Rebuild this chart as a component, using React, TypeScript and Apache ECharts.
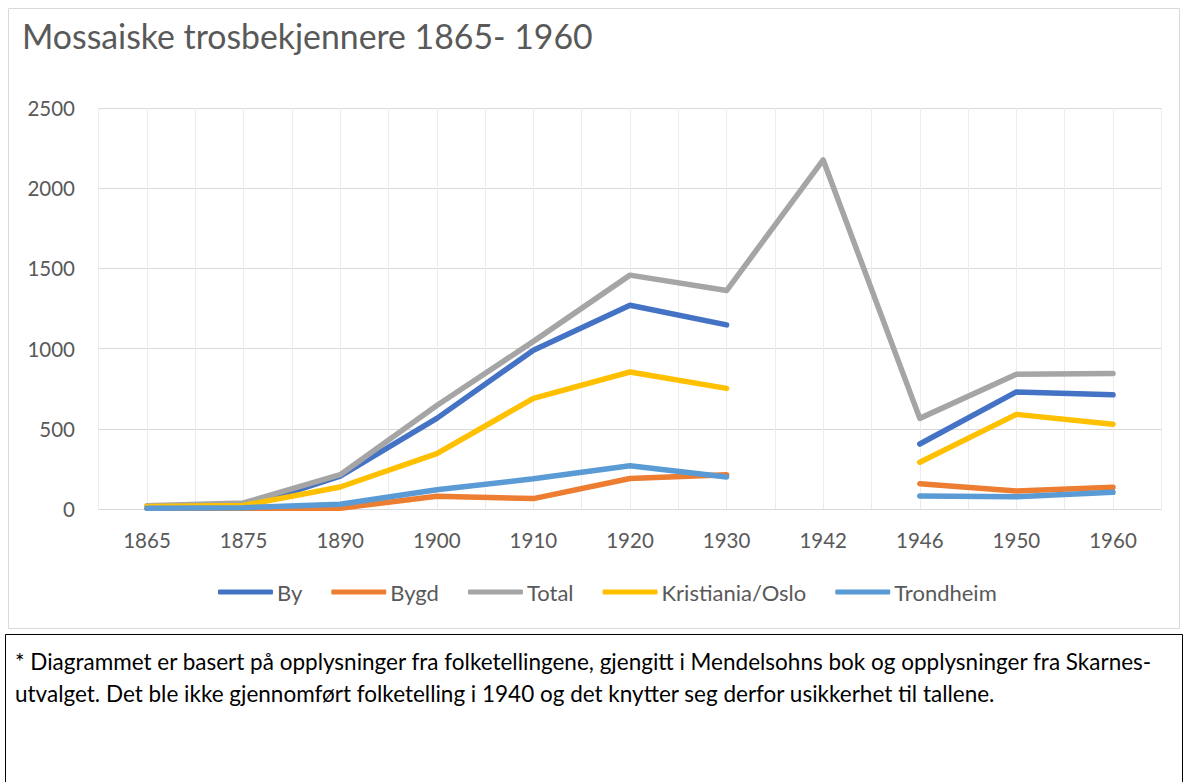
import React, { useEffect, useRef } from "react";
import * as echarts from "echarts";

const years = ["1865", "1875", "1890", "1900", "1910", "1920", "1930", "1942", "1946", "1950", "1960"];
const by = [5, 10, 205, 565, 990, 1270, 1148, null, 405, 730, 712];
const bygd = [5, 5, 5, 80, 65, 190, 213, null, 158, 112, 135];
const total = [20, 38, 214, 645, 1045, 1458, 1362, 2176, 565, 840, 845];
const oslo = [15, 22, 137, 345, 690, 854, 752, null, 292, 590, 528];
const trondheim = [5, 8, 30, 120, 188, 270, 200, null, 81, 76, 104];

const titleText = "Mossaiske trosbekjennere 1865- 1960";
const noteLines = [
  "* Diagrammet er basert på opplysninger fra folketellingene, gjengitt i Mendelsohns bok og opplysninger fra Skarnes-",
  "utvalget. Det ble ikke gjennomført folketelling i 1940 og det knytter seg derfor usikkerhet til tallene.",
];

const seriesDefs = [
  { name: "By", data: by, color: "#4472C4" },
  { name: "Bygd", data: bygd, color: "#ED7D31" },
  { name: "Total", data: total, color: "#A5A5A5" },
  { name: "Kristiania/Oslo", data: oslo, color: "#FFC000" },
  { name: "Trondheim", data: trondheim, color: "#5B9BD5" },
];

const FONT = "Lato, 'Open Sans', sans-serif";

export default function App() {
  const ref = useRef<HTMLDivElement>(null);
  useEffect(() => {
    document.body.style.margin = "0";
    const chart = echarts.init(ref.current!, null, { renderer: "svg" });
    chart.setOption({
      animation: false,
      backgroundColor: "#ffffff",
      textStyle: { fontFamily: FONT },
      grid: { left: 98.7, right: 23.7, top: 108, bottom: 273, containLabel: false },
      legend: {
        top: 576,
        left: 213,
        itemWidth: 55,
        itemHeight: 5,
        itemGap: 29,
        icon: "roundRect",
        textStyle: { fontSize: 22, color: "#595959", fontFamily: FONT, padding: [0, 0, 0, -1] },
        data: seriesDefs.map((s) => s.name),
      },
      xAxis: [
        {
          type: "category",
          data: years,
          boundaryGap: true,
          axisLine: { show: true, lineStyle: { color: "#d9d9d9", width: 1 } },
          axisTick: { show: false },
          splitLine: { show: false },
          axisLabel: { fontSize: 20.5, color: "#595959", margin: 20, fontFamily: FONT },
        },
        {
          type: "value",
          min: 0,
          max: 22,
          interval: 1,
          position: "top",
          axisLine: { show: false },
          axisTick: { show: false },
          axisLabel: { show: false },
          splitLine: { show: true, lineStyle: { color: "#ececec", width: 1 } },
        },
      ],
      yAxis: {
        type: "value",
        min: 0,
        max: 2500,
        interval: 500,
        axisLine: { show: false },
        axisTick: { show: false },
        axisLabel: {
          fontSize: 20.5,
          color: "#595959",
          margin: 23.7,
          fontFamily: FONT,
          formatter: (v: number) => String(v),
        },
        splitLine: { show: true, lineStyle: { color: "#d9d9d9", width: 1 } },
      },
      series: seriesDefs.map((s) => ({
        name: s.name,
        type: "line",
        xAxisIndex: 0,
        data: s.data,
        connectNulls: false,
        showSymbol: false,
        symbol: "none",
        color: s.color,
        lineStyle: { width: 5.5, color: s.color, cap: "round", join: "round" },
        itemStyle: { color: s.color },
      })),
      graphic: [
        {
          type: "rect",
          shape: { x: 8.5, y: 8.5, width: 1171, height: 620 },
          style: { fill: "none", stroke: "#d9d9d9", lineWidth: 1 },
          silent: true,
          z: -1,
        },
        {
          type: "text",
          left: 22,
          top: 19,
          style: { text: titleText, fontSize: 33.8, fill: "#595959", fontFamily: FONT },
        },
        {
          type: "rect",
          shape: { x: 5.5, y: 634.5, width: 1177, height: 160 },
          style: { fill: "#ffffff", stroke: "#000000", lineWidth: 1 },
          silent: true,
        },
        {
          type: "text",
          left: 15,
          top: 650,
          style: { text: noteLines[0], fontSize: 22.5, fill: "#000000", fontFamily: FONT },
        },
        {
          type: "text",
          left: 15,
          top: 682,
          style: { text: noteLines[1], fontSize: 22.5, fill: "#000000", fontFamily: FONT },
        },
      ],
    });
    return () => chart.dispose();
  }, []);
  return <div ref={ref} style={{ width: 1185, height: 782 }} />;
}
